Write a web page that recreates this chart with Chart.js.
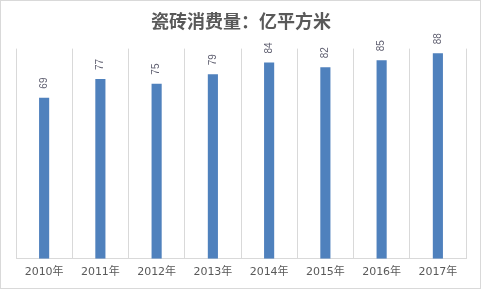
<!DOCTYPE html>
<html>
<head>
<meta charset="utf-8">
<script src="https://cdn.jsdelivr.net/npm/chart.js@4/dist/chart.umd.min.js"></script>
<style>
  html, body { margin: 0; padding: 0; background: #fff; }
  canvas { display: block; }
</style>
</head>
<body>
<canvas id="chart" width="481" height="289"></canvas>
<script>
// 数据
const years = ['2010年', '2011年', '2012年', '2013年', '2014年', '2015年', '2016年', '2017年'];
const consumption = [69, 77, 75, 79, 84, 82, 85, 88];
const chartTitle = '瓷砖消费量：亿平方米';

// border + white background
const frame = {
    id: 'frame',
    beforeDraw(chart) {
        const ctx = chart.ctx;
        ctx.save();
        ctx.fillStyle = '#ffffff';
        ctx.fillRect(0, 0, chart.width, chart.height);
        ctx.strokeStyle = '#d9d9d9';
        ctx.lineWidth = 1;
        ctx.strokeRect(0.5, 0.5, chart.width - 1, chart.height - 1);
        ctx.restore();
    }
};

// vertical value labels above bars
const barLabels = {
    id: 'barLabels',
    afterDatasetsDraw(chart) {
        const ctx = chart.ctx;
        const meta = chart.getDatasetMeta(0);
        ctx.save();
        ctx.fillStyle = '#5f5f70';
        ctx.font = '10px "Liberation Sans", Arial, sans-serif';
        ctx.textAlign = 'left';
        ctx.textBaseline = 'middle';
        meta.data.forEach((bar, i) => {
            ctx.save();
            ctx.translate(bar.x, bar.y - 9);
            ctx.rotate(-Math.PI / 2);
            ctx.fillText(String(consumption[i]), 0, 0);
            ctx.restore();
        });
        ctx.restore();
    }
};

const ctx = document.getElementById('chart').getContext('2d');
new Chart(ctx, {
    type: 'bar',
    data: {
        labels: years,
        datasets: [{
            data: consumption,
            backgroundColor: '#4f81bd',
            barPercentage: 0.18,
            categoryPercentage: 1
        }]
    },
    options: {
        responsive: false,
        animation: false,
        devicePixelRatio: 1,
        layout: { padding: { left: 16, right: 15, top: 0, bottom: 3 } },
        plugins: {
            legend: { display: false },
            tooltip: { enabled: false },
            title: {
                display: true,
                text: chartTitle,
                color: '#595959',
                font: { family: '"Noto Sans CJK SC", sans-serif', size: 18, weight: 'bold' },
                padding: { top: 10, bottom: 17 }
            }
        },
        scales: {
            x: {
                grid: { color: '#d9d9d9', drawTicks: false, offset: true },
                border: { color: '#d9d9d9' },
                ticks: {
                    color: '#595959',
                    padding: 7,
                    maxRotation: 0,
                    font: { family: '"DejaVu Sans", "Noto Sans CJK SC", sans-serif', size: 11 }
                }
            },
            y: {
                display: false,
                min: 0,
                max: 90
            }
        }
    },
    plugins: [frame, barLabels]
});
</script>
</body>
</html>
